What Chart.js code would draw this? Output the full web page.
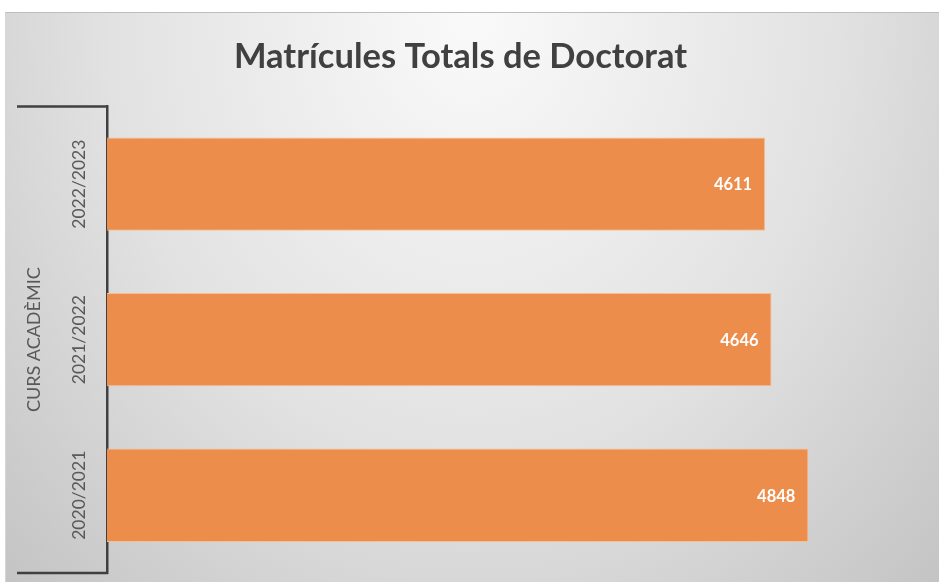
<!DOCTYPE html>
<html>
<head>
<meta charset="utf-8">
<script src="https://cdn.jsdelivr.net/npm/chart.js@4"></script>
<style>
    html, body { margin: 0; padding: 0; background: #ffffff; }
    #panel {
        position: absolute;
        left: 5px;
        top: 12px;
        width: 934px;
        height: 570px;
        background: radial-gradient(ellipse farthest-corner at 50% 0%, #fafafa 0%, #e2e2e2 55%, #c4c4c4 100%);
        border-top: 1px solid #bdbdbd;
        border-left: 1px solid #d6d6d6;
        box-sizing: border-box;
    }
</style>
</head>
<body>
<div id="panel"><canvas id="matChart" width="933" height="569"></canvas></div>
<script>
// Dades
const cursos = ['2022/2023', '2021/2022', '2020/2021'];
const matricules = [4611, 4646, 4848];
const titol = 'Matrícules Totals de Doctorat';
const titolEix = 'CURS ACADÈMIC';

// etiquetes blanques dins de cada barra
const etiquetesPlugin = {
    id: 'etiquetes',
    afterDatasetsDraw(chart) {
        const ctx = chart.ctx;
        const meta = chart.getDatasetMeta(0);
        ctx.save();
        ctx.font = 'bold 16.5px Lato';
        ctx.fillStyle = '#ffffff';
        ctx.textAlign = 'right';
        ctx.textBaseline = 'middle';
        meta.data.forEach(function (bar, i) {
            ctx.fillText(String(matricules[i]), bar.x - 13, bar.y + 1);
        });
        ctx.restore();
    }
};

// claudàtor de l'eix de categories
const claudatorPlugin = {
    id: 'claudator',
    afterDraw(chart) {
        const ctx = chart.ctx;
        const area = chart.chartArea;
        ctx.save();
        ctx.strokeStyle = '#404040';
        ctx.lineWidth = 2.5;
        ctx.beginPath();
        ctx.moveTo(area.left - 90, area.top);
        ctx.lineTo(area.left + 1, area.top);
        ctx.moveTo(area.left - 90, area.bottom);
        ctx.lineTo(area.left + 1, area.bottom);
        ctx.stroke();
        ctx.restore();
    }
};

window.onload = function () {
    const ctx = document.getElementById('matChart').getContext('2d');
    const matChart = new Chart(ctx, {
        type: 'bar',
        data: {
            labels: cursos,
            datasets: [{
                label: 'Matrícules',
                data: matricules,
                backgroundColor: '#ed8d4b',
                borderColor: '#f5bf94',
                borderWidth: 1,
                barPercentage: 0.6,
                categoryPercentage: 1
            }]
        },
        options: {
            indexAxis: 'y',
            responsive: false,
            animation: false,
            layout: { padding: { left: 0, right: 24, top: 0, bottom: 9 } },
            plugins: {
                legend: { display: false },
                tooltip: { enabled: false },
                title: {
                    display: true,
                    text: titol,
                    color: '#404040',
                    font: { family: 'Lato', size: 34.5, weight: 'bold', lineHeight: 1.2 },
                    padding: { top: 23, bottom: 29 }
                }
            },
            scales: {
                x: {
                    display: false,
                    min: 1000,
                    max: 5433
                },
                y: {
                    grid: { display: false, drawTicks: false },
                    border: { display: true, color: '#404040', width: 2.5 },
                    ticks: {
                        color: '#595959',
                        font: { family: 'Lato', size: 17.5 },
                        minRotation: 90,
                        maxRotation: 90,
                        crossAlign: 'center',
                        padding: -17
                    },
                    title: {
                        display: true,
                        text: titolEix,
                        color: '#595959',
                        font: { family: 'Lato', size: 18 },
                        padding: { top: 17, bottom: 0 }
                    },
                    afterFit: function (scale) { scale.width = 101; }
                }
            }
        },
        plugins: [etiquetesPlugin, claudatorPlugin]
    });
};
</script>
</body>
</html>
